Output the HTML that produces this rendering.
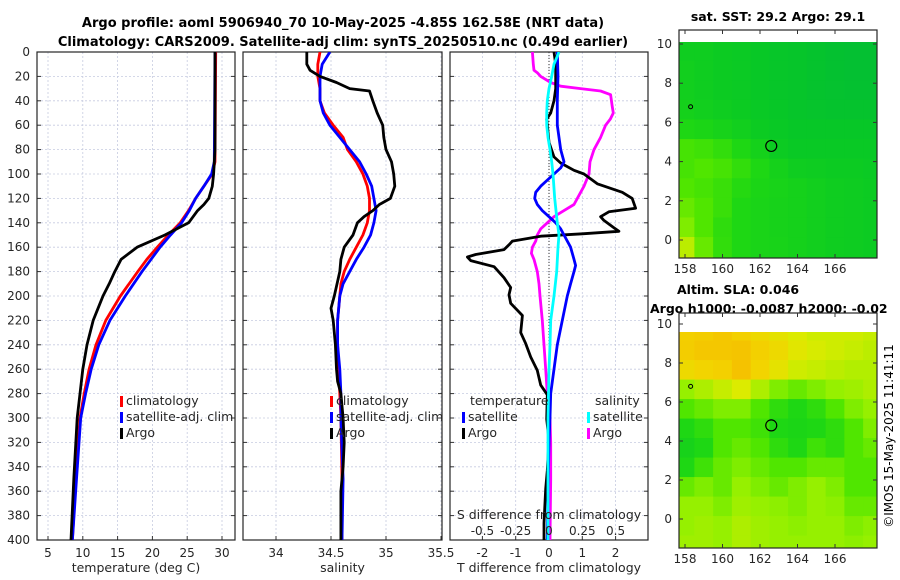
<!DOCTYPE html>
<html><head><meta charset="utf-8"><style>
html,body{margin:0;padding:0;background:#fff;}
svg{display:block;font-family:"DejaVu Sans","Liberation Sans",sans-serif;}
</style></head><body>
<svg id="fig" width="900" height="580" viewBox="0 0 900 580" xmlns="http://www.w3.org/2000/svg">
<text x="343" y="27" text-anchor="middle" font-size="13" font-weight="bold">Argo profile: aoml 5906940_70 10-May-2025 -4.85S 162.58E (NRT data)</text>
<text x="343" y="46" text-anchor="middle" font-size="13" font-weight="bold">Climatology: CARS2009. Satellite-adj clim: synTS_20250510.nc (0.49d earlier)</text>
<text x="778" y="21" text-anchor="middle" font-size="12.5" font-weight="bold">sat. SST: 29.2 Argo: 29.1</text>
<text x="677" y="294" font-size="12.5" font-weight="bold">Altim. SLA: 0.046</text>
<text x="650" y="313" font-size="12.5" font-weight="bold">Argo h1000: -0.0087 h2000: -0.02</text>
<text x="0" y="0" transform="translate(893,436) rotate(-90)" text-anchor="middle" font-size="12">©IMOS 15-May-2025 11:41:11</text>
</svg>
<script>
// ---------- data ----------
const depthTicks = [0,20,40,60,80,100,120,140,160,180,200,220,240,260,280,300,320,340,360,380,400];
const tempTicks = [5,10,15,20,25,30];
const salTicks = [34,34.5,35,35.5];
const tdiffTicks = [-2,-1,0,1,2];
const sdiffTicks = [-0.5,-0.25,0,0.25,0.5];
const sdiffTickLabels = ["-0.5","-0.25","0","0.25","0.5"];

const tArgoDepth = [0,80,90,100,110,120,125,130,140,150,160,170,180,190,200,210,220,240,260,280,300,350,400];
const tArgoVal   = [29.0,29.0,28.9,28.8,28.6,28.1,27.4,26.5,25.2,21.8,17.8,15.5,14.6,13.8,12.9,12.2,11.5,10.6,10.0,9.6,9.2,8.7,8.3];
const tClimDepth = [0,90,100,110,120,130,140,150,160,170,180,200,220,240,260,280,300,350,400];
const tClimVal   = [29.1,29.0,28.6,27.4,26.2,25.2,24.0,22.3,20.7,19.2,17.9,15.4,13.3,11.9,10.9,10.2,9.6,9.0,8.5];
const tSatDepth  = [0,90,100,110,120,130,140,150,160,170,180,200,220,240,260,280,300,350,400];
const tSatVal    = [29.0,28.9,28.5,27.4,26.2,25.3,24.2,22.6,21.1,19.8,18.5,16.1,13.9,12.3,11.2,10.4,9.7,9.1,8.5];

const sDepth = [0,10,15,20,25,30,32,40,50,60,70,80,90,100,110,115,120,125,130,135,140,150,160,170,180,200,210,220,240,260,270,280,300,320,340,360,380,400];
const sArgo  = [34.28,34.28,34.31,34.40,34.55,34.67,34.85,34.88,34.92,34.97,34.98,35.0,35.05,35.07,35.08,35.06,35.04,34.94,34.88,34.80,34.74,34.70,34.62,34.59,34.58,34.53,34.50,34.52,34.54,34.55,34.56,34.59,34.61,34.62,34.61,34.59,34.59,34.59];
const sClimDepth = [0,10,20,30,40,50,60,70,80,90,100,110,120,130,140,150,160,170,180,190,200,220,240,260,280,300,350,400];
const sClim  = [34.40,34.38,34.38,34.40,34.40,34.44,34.52,34.61,34.65,34.73,34.79,34.83,34.85,34.85,34.83,34.79,34.73,34.67,34.62,34.59,34.58,34.56,34.56,34.57,34.58,34.59,34.60,34.60];
const sSat   = [34.49,34.42,34.40,34.40,34.40,34.43,34.49,34.58,34.67,34.76,34.82,34.87,34.89,34.91,34.89,34.86,34.80,34.73,34.67,34.61,34.58,34.56,34.56,34.58,34.59,34.59,34.61,34.60];

const dtArgoDepth = [0,10,20,30,40,50,55,60,74,86,91,97,100,108,115,120,128,131,135,138,144,147,149,151,155,158,162,166,168,171,176,185,193,199,206,216,230,239,250,261,273,281,301,318,343,358,386,400];
const dtArgo = [0.15,0.2,0.2,0.2,0.15,0.05,-0.07,-0.05,0,0.15,0.35,0.75,1.05,1.45,2.2,2.5,2.6,1.8,1.55,1.65,1.95,2.1,1.0,-0.25,-1.1,-1.2,-1.35,-2.2,-2.45,-2.35,-1.65,-1.35,-1.15,-1.2,-1.15,-0.8,-0.85,-0.7,-0.55,-0.35,-0.25,-0.05,-0.07,0,-0.05,-0.1,-0.15,-0.15];
const dtSatDepth = [0,20,40,60,80,90,95,100,105,110,115,120,125,130,135,140,145,150,160,170,175,180,190,200,220,240,260,280,300,320,360,400];
const dtSat = [0.25,0.27,0.25,0.25,0.35,0.45,0.35,0.15,-0.05,-0.25,-0.4,-0.43,-0.35,-0.2,0,0.2,0.35,0.45,0.65,0.75,0.8,0.75,0.65,0.55,0.4,0.25,0.15,0.05,0.03,0,-0.03,-0.05];
const dsSatDepth = [0,10,20,30,40,50,60,70,80,90,100,120,140,150,160,180,200,220,240,260,300,400];
const dsSat = [0.075,0.0375,0.02,0,-0.0125,-0.0175,-0.0175,-0.0075,0.0075,0.02,0.03,0.0425,0.0625,0.075,0.0675,0.0575,0.0375,0.0125,0.0075,0,-0.0075,-0.0075];
const dsArgoDepth = [0,10,15,17,20,25,28,30,32,35,45,50,55,60,70,80,90,100,110,120,125,130,135,140,145,150,155,160,165,170,180,190,200,220,240,260,280,290,300,320,350,400];
const dsArgo = [-0.125,-0.1175,-0.1125,-0.0875,-0.0625,0.0125,0.0875,0.2375,0.3875,0.4625,0.475,0.4825,0.46,0.425,0.3875,0.3375,0.3075,0.30,0.2625,0.2125,0.1875,0.1125,0.0375,-0.0125,-0.0625,-0.0875,-0.1,-0.125,-0.1325,-0.1125,-0.0875,-0.075,-0.0675,-0.05,-0.0375,-0.025,-0.0125,0,0.0075,0.0125,0.0125,0.0075];

const lonTicks = [158,160,162,164,166];
const latTicks = [0,2,4,6,8,10];
const sstGrid = [
[.2,.2,.18,.17,.15,.13,.12,.1,.08,.07,.07,.07],
[.22,.2,.18,.17,.15,.13,.12,.1,.08,.07,.07,.07],
[.22,.2,.18,.17,.15,.13,.12,.1,.09,.08,.08,.08],
[.24,.22,.2,.18,.16,.14,.12,.11,.1,.1,.1,.1],
[.3,.28,.25,.22,.18,.16,.14,.14,.14,.14,.14,.14],
[.42,.4,.36,.3,.24,.18,.16,.16,.16,.16,.16,.16],
[.42,.45,.42,.36,.3,.24,.2,.19,.18,.18,.17,.17],
[.45,.42,.38,.32,.28,.26,.24,.22,.2,.19,.18,.17],
[.5,.45,.38,.3,.27,.25,.24,.22,.2,.19,.18,.17],
[.55,.45,.35,.3,.27,.25,.24,.22,.2,.19,.18,.17],
[.68,.5,.36,.3,.27,.26,.24,.22,.2,.19,.18,.17],
[.72,.55,.36,.3,.27,.26,.24,.22,.2,.19,.18,.17]];
const slaGrid = [
[.9,.92,.95,.9,.85,.8,.75,.72,.72,.72,.7,.7],
[.92,.95,.95,.97,.9,.85,.78,.74,.72,.7,.68,.7],
[.85,.88,.9,.98,.88,.8,.72,.7,.68,.66,.66,.68],
[.6,.65,.7,.75,.65,.55,.5,.55,.6,.62,.65,.68],
[.45,.5,.55,.55,.45,.35,.3,.35,.45,.55,.6,.62],
[.3,.35,.45,.45,.4,.3,.28,.3,.35,.45,.55,.6],
[.25,.3,.45,.5,.45,.35,.3,.4,.35,.45,.5,.55],
[.3,.4,.5,.55,.5,.45,.45,.5,.5,.45,.45,.5],
[.5,.55,.5,.6,.55,.5,.55,.6,.55,.45,.45,.55],
[.6,.6,.55,.62,.6,.58,.55,.6,.58,.5,.5,.6],
[.6,.62,.6,.65,.62,.6,.58,.6,.6,.55,.58,.62],
[.62,.62,.6,.65,.62,.6,.6,.6,.6,.58,.6,.62]];
const argoLon = 162.6, argoLat = 4.8;

// ---------- drawing ----------
const NS="http://www.w3.org/2000/svg", svg=document.getElementById('fig');
function mk(tag,attrs,parent){const e=document.createElementNS(NS,tag);for(const k in attrs)e.setAttribute(k,attrs[k]);(parent||svg).appendChild(e);return e;}
const top0=52, bot0=540;
const yD = d => top0 + d*(bot0-top0)/400;
function makeX(v0,x0,v1,x1){return v=>x0+(v-v0)*(x1-x0)/(v1-v0);}
const panels=[
 {l:37,r:235,x:makeX(5,48,30,222),ticks:tempTicks,labels:tempTicks.map(String),xlabel:"temperature (deg C)",name:"temperature"},
 {l:243,r:442,x:makeX(34,276,35,386),ticks:salTicks,labels:salTicks.map(String),xlabel:"salinity",name:"salinity"},
 {l:450,r:648,x:makeX(0,549,1,582.3),ticks:tdiffTicks,labels:tdiffTicks.map(String),xlabel:"T difference from climatology",name:"difference"}];

panels.forEach((p,pi)=>{
  const g=mk('g',{});
  
  
  const clipId='clip'+pi;
  const cp=mk('clipPath',{id:clipId},g); mk('rect',{x:p.l,y:top0,width:p.r-p.l,height:bot0-top0},cp);
  depthTicks.forEach(d=>{ if(d>0&&d<400) mk('line',{x1:p.l,x2:p.r,y1:yD(d),y2:yD(d),stroke:'#c6cbe0','stroke-width':0.8,'stroke-dasharray':'2,2'},g);});
  p.ticks.forEach(t=>{const x=p.x(t); if(x>p.l&&x<p.r) mk('line',{x1:x,x2:x,y1:top0,y2:bot0,stroke:'#c6cbe0','stroke-width':0.8,'stroke-dasharray':'2,2'},g);});
  depthTicks.forEach(d=>{mk('line',{x1:p.l,x2:p.l+4,y1:yD(d),y2:yD(d),stroke:'#333'},g);mk('line',{x1:p.r-4,x2:p.r,y1:yD(d),y2:yD(d),stroke:'#333'},g);});
  p.ticks.forEach((t,i)=>{const x=p.x(t); mk('line',{x1:x,x2:x,y1:bot0,y2:bot0-4,stroke:'#333'},g);
    const tx=mk('text',{x:x,y:557,'text-anchor':'middle','font-size':12,fill:'#262626'},g); tx.textContent=p.labels[i];
    
    });
  const xl=mk('text',{x:(p.l+p.r)/2,y:572,'text-anchor':'middle','font-size':12.5,fill:'#262626'},g); xl.textContent=p.xlabel;
  
  
  mk('rect',{x:p.l,y:top0,width:p.r-p.l,height:bot0-top0,fill:'none',stroke:'#262626','stroke-width':1.2},g);
  p.g=g; p.clip='url(#'+clipId+')';
});
depthTicks.forEach(d=>{const t=mk('text',{x:30,y:yD(d)+4,'text-anchor':'end','font-size':12,fill:'#262626'});t.textContent=String(d);
  
  });

function line(p,depths,vals,xf,color,name,w){
  const dstr=depths.map((d,i)=>(i?'L':'M')+xf(vals[i]).toFixed(1)+','+yD(d).toFixed(1)).join('');
  const e=mk('path',{d:dstr,fill:'none',stroke:color,'stroke-width':w||2.8,'stroke-linejoin':'round','clip-path':p.clip},p.g);
  
  
}
const P1=panels[0],P2=panels[1],P3=panels[2];
line(P1,tClimDepth,tClimVal,P1.x,'#ff0000','temp-climatology-line');
line(P1,tSatDepth,tSatVal,P1.x,'#0000ff','temp-satellite-line');
line(P1,tArgoDepth,tArgoVal,P1.x,'#000','temp-argo-line');
line(P2,sClimDepth,sClim,P2.x,'#ff0000','sal-climatology-line');
line(P2,sClimDepth,sSat,P2.x,'#0000ff','sal-satellite-line');
line(P2,sDepth,sArgo,P2.x,'#000','sal-argo-line');
const xS = v => P3.x(v*4);
mk('line',{x1:P3.x(0),x2:P3.x(0),y1:top0,y2:bot0,stroke:'#333','stroke-width':1,'stroke-dasharray':'1,2'},P3.g);
line(P3,dsArgoDepth,dsArgo,xS,'#ff00ff','sdiff-argo-line');
line(P3,dtArgoDepth,dtArgo,P3.x,'#000','tdiff-argo-line');
line(P3,dtSatDepth,dtSat,P3.x,'#0000ff','tdiff-satellite-line');
line(P3,dsSatDepth,dsSat,xS,'#00ffff','sdiff-satellite-line');
const sl=mk('text',{x:549,y:519,'text-anchor':'middle','font-size':12.5,fill:'#262626'},P3.g); sl.textContent='S difference from climatology';


sdiffTicks.forEach((t,i)=>{const tx=mk('text',{x:xS(t),y:535,'text-anchor':'middle','font-size':12,fill:'#262626'},P3.g);tx.textContent=sdiffTickLabels[i];
  
  });

function legend(x,y,color,label,name){
  const g=mk('g',{});
  
  
  mk('rect',{x:x,y:y-9,width:3,height:11,fill:color},g);
  const t=mk('text',{x:x+6,y:y,'font-size':12.5,fill:'#262626'},g); t.textContent=label;
}
legend(120,405,'#ff0000','climatology','legend-temp-climatology');
legend(120,421,'#0000ff','satellite-adj. clim','legend-temp-satellite');
legend(120,437,'#000','Argo','legend-temp-argo');
legend(330,405,'#ff0000','climatology','legend-sal-climatology');
legend(330,421,'#0000ff','satellite-adj. clim','legend-sal-satellite');
legend(330,437,'#000','Argo','legend-sal-argo');
(function(){const t=mk('text',{x:470,y:405,'font-size':12.5,fill:'#262626'});t.textContent='temperature';
 
 
 const s=mk('text',{x:595,y:405,'font-size':12.5,fill:'#262626'});s.textContent='salinity';
 
 })();
legend(462,421,'#0000ff','satellite','legend-tdiff-satellite');
legend(462,437,'#000','Argo','legend-tdiff-argo');
legend(587,421,'#00ffff','satellite','legend-sdiff-satellite');
legend(587,437,'#ff00ff','Argo','legend-sdiff-argo');

// ---------- maps ----------
const cmapStops=[[0,[0,185,60]],[0.15,[8,200,38]],[0.3,[30,215,20]],[0.45,[80,230,0]],[0.6,[150,240,0]],[0.75,[220,235,0]],[0.88,[242,212,0]],[1,[245,190,0]]];
function cmap(v){for(let i=1;i<cmapStops.length;i++){if(v<=cmapStops[i][0]){const a=cmapStops[i-1],b=cmapStops[i],f=(v-a[0])/(b[0]-a[0]);
 return 'rgb('+a[1].map((c,k)=>Math.round(c+(b[1][k]-c)*f)).join(',')+')';}}return 'rgb(245,190,0)';}
function drawMap(grid,box,yLat,dataTop,name,idx){
  const g=mk('g',{});
  
  
  const xLon=makeX(158,685,166,835);
  const cp=mk('clipPath',{id:'mclip'+idx},g); mk('rect',{x:box.l,y:dataTop,width:box.r-box.l,height:box.b-dataTop},cp);
  const cg=mk('g',{'clip-path':'url(#mclip'+idx+')'},g);
  grid.forEach((row,j)=>row.forEach((v,i)=>{
    const x0=xLon(157.5+i),x1=xLon(158.5+i),y0=yLat(10.15-j),y1=yLat(9.15-j);
    const c=mk('rect',{x:x0,y:y0,width:x1-x0+0.6,height:y1-y0+0.6,fill:cmap(v)},cg);
    
    
  }));
  const ci=mk('circle',{cx:xLon(argoLon),cy:yLat(argoLat),r:5.5,fill:'none',stroke:'#000','stroke-width':1.2},g);
  
  
  mk('circle',{cx:xLon(158.3),cy:yLat(6.8),r:2,fill:'none',stroke:'#000'},g);
  mk('rect',{x:box.l,y:box.t,width:box.r-box.l,height:box.b-box.t,fill:'none',stroke:'#262626','stroke-width':1.2},g);
  lonTicks.forEach(t=>{const x=xLon(t);mk('line',{x1:x,x2:x,y1:box.b,y2:box.b-4,stroke:'#333'},g);mk('line',{x1:x,x2:x,y1:box.t,y2:box.t+4,stroke:'#333'},g);
    const tx=mk('text',{x:x,y:box.b+15,'text-anchor':'middle','font-size':12,fill:'#262626'},g);tx.textContent=String(t);
    
    });
  latTicks.forEach(t=>{const y=yLat(t);mk('line',{x1:box.l,x2:box.l+4,y1:y,y2:y,stroke:'#333'},g);mk('line',{x1:box.r-4,x2:box.r,y1:y,y2:y,stroke:'#333'},g);
    const tx=mk('text',{x:box.l-7,y:y+4,'text-anchor':'end','font-size':12,fill:'#262626'},g);tx.textContent=String(t);
    
    });
}
drawMap(sstGrid,{l:679,r:877,t:30,b:258},lat=>240-lat*19.6,42,'sst-map',0);
drawMap(slaGrid,{l:679,r:877,t:313,b:548},lat=>519-lat*19.5,332,'sla-map',1);
</script>
</body></html>
